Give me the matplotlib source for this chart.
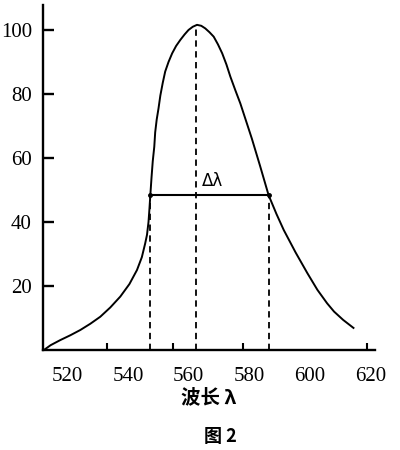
import matplotlib.pyplot as plt

plt.rcParams['font.family'] = ['Liberation Serif', 'Noto Sans CJK SC', 'DejaVu Sans']

# curve (wavelength nm, relative intensity)
wavelength = [512.3, 514.5, 517.7, 521, 524.3, 527.6, 530.9, 534.2, 537.5, 540.5,
              543.0, 544.6, 545.7, 546.3, 546.8, 547.1, 547.4, 547.8, 548.2, 548.7,
              549.0, 549.5, 550.1, 550.7, 551.5, 552.3, 553.4, 554.6, 555.9, 557.3,
              558.7, 560.0, 561.4, 562.8, 564.2, 565.5, 566.9, 568.3, 569.7, 571.1,
              572.5, 573.8, 575.5, 577.1, 579, 580.9, 583.6, 586.4, 589, 591.4,
              595.3, 599.2, 602.5, 605.7, 608, 611, 614.4]
intensity = [0, 1.5, 3.1, 4.6, 6.25, 8.2, 10.4, 13.3, 16.7, 20.6,
             25, 29, 33.3, 36, 40, 44, 48.4, 54, 59, 63.5,
             68, 72, 75.5, 79.5, 83.5, 87.0, 90, 92.7, 95, 96.9,
             98.6, 100, 101, 101.6, 101.3, 100.5, 99.3, 97.9, 95.5, 92.7,
             89.2, 85.4, 81, 77, 71.5, 66, 57.5, 48.4, 42.5, 37.5,
             30.5, 24, 18.8, 14.6, 12, 9.4, 6.9]

peak_wl = 562.6
peak_val = 101.6
half_left = 547.4
half_right = 586.4
half_val = 48.4

x_labels = [520, 540, 560, 580, 600, 620]
x_marks = [533, 555, 578, 600, 619]   # tick marks on the scanned axis
y_ticks = [20, 40, 60, 80, 100]

fig = plt.figure(figsize=(4, 4.5), dpi=100)
ax = fig.add_axes([0.1075, 0.2222, 0.83, 0.7667])

ax.plot(wavelength, intensity, color='black', lw=1.4, solid_joinstyle='round')

# dashed guides
for xv, top in [(half_left, half_val), (peak_wl, peak_val), (half_right, half_val)]:
    ax.plot([xv, xv], [0, top], color='black', lw=1.3, ls=(0, (3.5, 2.5)))

# half-width bar
ax.plot([half_left, half_right], [half_val, half_val], color='black', lw=1.5,
        marker='o', markersize=2.5)
ax.text(564.5, half_val + 1.5, 'Δλ', ha='left', va='bottom',
        fontsize=12, family=['DejaVu Sans'])

ax.set_xlim(512, 621.5)
ax.set_ylim(0, 107.8)

ax.spines['top'].set_visible(False)
ax.spines['right'].set_visible(False)
ax.spines['left'].set_linewidth(1.7)
ax.spines['bottom'].set_linewidth(1.7)

ax.set_xticks(x_labels)
ax.set_xticks(x_marks, minor=True)
ax.set_yticks(y_ticks)
ax.tick_params(axis='x', which='major', length=0, pad=12, labelsize=15)
ax.tick_params(axis='x', which='minor', direction='in', length=5, width=1.5)
ax.tick_params(axis='y', direction='in', length=8, width=1.7, pad=8, labelsize=15)

ax.set_xlabel('波长 λ', fontsize=14, family=['Noto Sans CJK SC', 'DejaVu Sans'],
              fontweight='bold', labelpad=2)
fig.text(0.55, 0.03, '图 2', ha='center', va='center', fontsize=13,
         family=['Noto Sans CJK SC', 'DejaVu Sans'], fontweight='bold')

fig.savefig('out.png', dpi=100)
